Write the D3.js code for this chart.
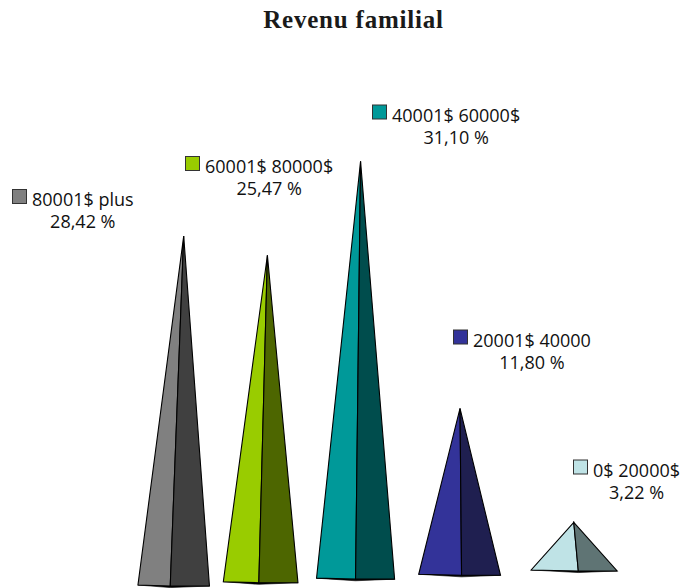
<!DOCTYPE html>
<html lang="fr">
<head>
<meta charset="utf-8">
<title>Revenu familial</title>
<script src="https://cdn.jsdelivr.net/npm/d3@7/dist/d3.min.js"></script>
<style>
  html, body { margin: 0; padding: 0; background: #fff; }
  svg { display: block; }
  .title { font-family: "Liberation Serif", serif; font-weight: bold; font-size: 25px; letter-spacing: 0.8px; fill: #1a1a1a; }
  .lbl { font-family: "Open Sans", sans-serif; font-size: 18px; fill: #111; }
</style>
</head>
<body>
<svg id="chart" width="685" height="588"></svg>
<script>
// Income brackets and their share of households (%)
const categories = ["80001$ plus", "60001$ 80000$", "40001$ 60000$", "20001$ 40000", "0$ 20000$"];
const percents = [28.42, 25.47, 31.10, 11.80, 3.22];

// Face colours: lit left face and shaded right face of each pyramid
const lightColors = ["#808080", "#99cc00", "#009999", "#333399", "#bfe3e6"];
const darkColors  = ["#404040", "#4d6600", "#004d4d", "#1f1f50", "#5f7474"];

// Hand-placed data label blocks: left edge of legend key, baseline of first line
const labelAnchors = [[12, 206], [185, 173], [372, 121.5], [453, 346.5], [573, 476.5]];

const svg = d3.select("#chart");

// --- 3D perspective set-up -------------------------------------------------
// World x positions of the pyramids along the category axis
const X0 = 173.7, STEP = 76;
const xWorld = d3.scalePoint()
  .domain(categories)
  .range([X0, X0 + STEP * (categories.length - 1)]);
// Depth factor: the category axis recedes towards the left
const depth = d3.scaleLinear()
  .domain([X0, X0 + STEP * (categories.length - 1)])
  .range([1, 0.832]);
// Height of a pyramid in world units for a percentage
const hWorld = d3.scaleLinear().domain([0, 35]).range([0, 35 * 12.28]);

const HORIZON = 659.5;   // eye level (below the floor)
const FLOOR = 74.5;      // floor height above eye level, world units
const HALF = 35.75;      // half base width, world units
const VANISH_X = 356;    // horizontal vanishing point for depth offsets
const VERT_X = 486, VERT_L = 10900; // vertical convergence (3-point perspective)

const fmt = v => d3.format(".2f")(v).replace(".", ",") + " %";

const data = categories.map((c, i) => {
  const d = depth(xWorld(c));
  const xc = xWorld(c) / d;
  const yb = HORIZON - FLOOR / d;
  const ya = HORIZON - (FLOOR + hWorld(percents[i])) / d;
  const hw = HALF / d;
  const fo = (xc - VANISH_X) * 0.019;
  const ax = xc + (VERT_X - xc) * (yb - ya) / VERT_L;
  return { c, v: percents[i], i, xc, yb, ya, hw, fo, ax };
});

const line = d3.line();
const g = svg.append("g").attr("class", "pyramids");

const pyr = g.selectAll("g.pyr").data(data).join("g").attr("class", "pyr");

// Underside sliver of the base (seen from below the floor)
pyr.append("path")
  .attr("d", p => line([
    [p.xc - p.hw, p.yb], [p.xc + p.fo, p.yb + 2.6], [p.xc + p.hw, p.yb + 1], [p.xc + p.fo, p.yb - 0.3]
  ]) + "Z")
  .attr("fill", "#000")
  .attr("stroke", "#000")
  .attr("stroke-width", 0.6);

// Left (lit) face
pyr.append("path")
  .attr("d", p => line([[p.ax, p.ya], [p.xc - p.hw, p.yb], [p.xc + p.fo, p.yb + 1]]) + "Z")
  .attr("fill", p => lightColors[p.i])
  .attr("stroke", "#000")
  .attr("stroke-width", 1.1)
  .attr("stroke-linejoin", "miter");

// Right (shaded) face
pyr.append("path")
  .attr("d", p => line([[p.ax, p.ya], [p.xc + p.fo, p.yb + 1], [p.xc + p.hw, p.yb + 1]]) + "Z")
  .attr("fill", p => darkColors[p.i])
  .attr("stroke", "#000")
  .attr("stroke-width", 1.1)
  .attr("stroke-linejoin", "miter");

// --- Data labels with legend keys -----------------------------------------
const lab = svg.append("g").attr("class", "labels")
  .selectAll("g").data(data).join("g")
  .attr("transform", p => `translate(${labelAnchors[p.i][0]},${labelAnchors[p.i][1]})`);

lab.append("rect")
  .attr("x", 0.5).attr("y", -16.5)
  .attr("width", 14).attr("height", 14)
  .attr("fill", p => lightColors[p.i])
  .attr("stroke", "#333")
  .attr("stroke-width", 1);

const nameText = lab.append("text")
  .attr("class", "lbl")
  .attr("x", 20).attr("y", 0)
  .text(p => p.c);

lab.append("text")
  .attr("class", "lbl")
  .attr("text-anchor", "middle")
  .attr("y", 22)
  .attr("x", function(p, k) {
    const w = nameText.nodes()[k].getComputedTextLength();
    return 20 + w / 2;
  })
  .text(p => fmt(p.v));

// --- Title ----------------------------------------------------------------
svg.append("text")
  .attr("class", "title")
  .attr("x", 353.5).attr("y", 28)
  .attr("text-anchor", "middle")
  .text("Revenu familial");
</script>
</body>
</html>
